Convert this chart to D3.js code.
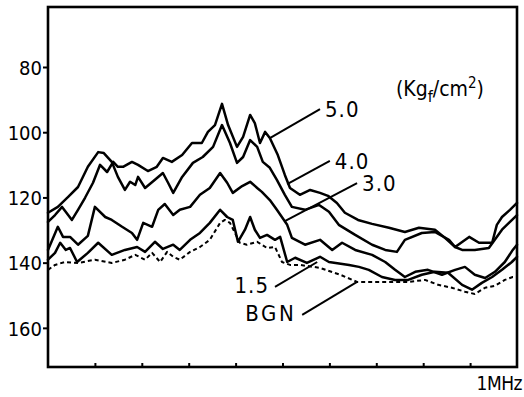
<!DOCTYPE html>
<html>
<head>
<meta charset="utf-8">
<script src="https://cdn.jsdelivr.net/npm/d3@7"></script>
<style>
  body { margin: 0; background: #fff; }
  svg text { font-family: "DejaVu Sans Condensed", "Liberation Sans Narrow", sans-serif; fill: #000; }
  .curve { fill: none; stroke: #000; stroke-width: 2.5; stroke-linejoin: round; stroke-linecap: round; }
  .bgn { stroke-width: 2; stroke-dasharray: 4 3; stroke-linecap: butt; }
</style>
</head>
<body>
<div id="container"></div>
<script>
// level readings (dB, plotted downward) against frequency (MHz)
const s50 = [[0,127.5],[.015,125.4],[.030,122.9],[.051,126.9],[.064,123.8],[.079,120.1],[.096,115.5],[.111,110.0],[.126,112.2],[.139,109.1],[.149,110.6],[.160,110.6],[.179,109.1],[.192,110.0],[.213,111.9],[.232,110.6],[.245,107.9],[.264,109.1],[.286,107.0],[.307,103.3],[.328,103.3],[.341,99.9],[.356,97.8],[.371,91.3],[.384,97.8],[.403,104.5],[.416,101.4],[.431,94.7],[.441,97.2],[.452,103.3],[.463,99.9],[.473,101.8],[.490,107.0],[.505,113.1],[.516,117.1],[.537,119.2],[.559,117.7],[.580,118.6],[.597,119.5],[.616,121.7],[.633,124.7],[.661,126.9],[.691,128.1],[.727,129.3],[.761,130.6],[.791,129.3],[.825,129.9],[.844,132.1],[.868,135.2],[.898,132.1],[.919,133.9],[.947,133.9],[.957,128.4],[.968,126.0],[.985,123.8],[1,121.7]];
const s40 = [[0,124.7],[.021,122.9],[.043,119.8],[.064,116.8],[.085,110.6],[.107,106.1],[.119,106.4],[.136,109.1],[.149,113.7],[.164,117.7],[.175,115.2],[.186,116.2],[.192,113.7],[.207,117.1],[.228,114.6],[.245,112.5],[.256,115.5],[.267,118.6],[.286,113.7],[.309,109.4],[.330,107.6],[.352,104.5],[.371,97.8],[.388,103.3],[.403,109.4],[.416,107.6],[.431,102.4],[.446,104.5],[.458,109.1],[.473,110.9],[.488,114.6],[.505,119.2],[.520,122.9],[.548,123.8],[.578,122.3],[.599,124.4],[.620,128.4],[.655,131.5],[.691,134.5],[.719,136.1],[.744,136.7],[.761,133.0],[.797,130.9],[.825,130.6],[.855,133.0],[.868,135.2],[.883,136.1],[.910,136.1],[.940,135.5],[.968,129.9],[.985,127.5],[1,125.4]];
const s30 = [[0,136.1],[.021,129.0],[.032,132.1],[.047,132.1],[.064,134.5],[.085,131.8],[.100,122.9],[.122,126.0],[.136,126.9],[.158,129.0],[.179,130.9],[.190,133.0],[.203,127.8],[.222,129.0],[.235,123.8],[.249,122.0],[.267,125.4],[.281,123.8],[.303,122.9],[.324,119.2],[.345,117.1],[.367,112.5],[.382,115.5],[.394,118.6],[.414,116.5],[.431,115.2],[.446,117.1],[.456,118.3],[.473,120.8],[.488,123.8],[.510,128.4],[.520,132.4],[.548,134.5],[.580,133.0],[.606,136.1],[.627,133.9],[.655,136.1],[.691,137.6],[.719,139.8],[.740,142.2],[.761,144.4],[.783,142.8],[.810,142.2],[.840,143.7],[.868,142.2],[.889,141.3],[.910,143.7],[.932,144.7],[.953,142.8],[.974,139.8],[.991,136.1],[1,134.5]];
const s15 = [[0,139.1],[.015,137.0],[.026,133.9],[.038,136.1],[.047,135.5],[.062,139.8],[.085,137.0],[.107,133.9],[.136,137.6],[.164,136.1],[.190,135.2],[.207,136.7],[.228,133.6],[.245,135.8],[.267,134.5],[.281,136.1],[.303,133.0],[.324,130.9],[.345,127.8],[.367,123.8],[.382,126.0],[.394,126.9],[.405,133.6],[.420,129.9],[.431,126.0],[.441,129.9],[.452,132.4],[.467,131.5],[.484,133.0],[.495,132.1],[.510,139.8],[.527,138.5],[.552,140.1],[.580,138.2],[.599,139.8],[.642,140.7],[.663,141.3],[.684,142.2],[.712,144.4],[.740,145.3],[.768,145.3],[.797,143.7],[.825,142.8],[.853,143.1],[.883,146.8],[.904,148.3],[.925,146.2],[.947,144.4],[.968,142.2],[.989,139.8],[1,138.2]];
const bgn = [[0,142.2],[.015,140.7],[.036,139.8],[.064,140.1],[.100,139.1],[.136,140.1],[.164,139.1],[.186,137.6],[.207,139.1],[.222,137.0],[.239,139.8],[.254,136.7],[.267,138.2],[.281,139.1],[.303,136.7],[.324,135.2],[.345,133.0],[.367,127.8],[.377,126.9],[.388,127.8],[.409,133.9],[.424,134.5],[.446,133.6],[.467,135.5],[.484,135.2],[.499,139.8],[.516,140.7],[.537,140.7],[.580,141.6],[.623,143.7],[.659,145.9],[.687,145.9],[.719,145.9],[.768,145.9],[.804,145.3],[.832,146.8],[.861,147.7],[.889,148.9],[.910,149.6],[.932,147.7],[.953,147.1],[.974,145.3],[.991,144.4],[1,144.4]];

const yTicks = [80, 100, 120, 140, 160];
const xTicks = [0.1, 0.2, 0.3, 0.4, 0.5, 0.6, 0.7, 0.8, 0.9];
const xEndLabel = "1MHz";
const unitLabel = ["(Kg", "f", "/cm", "2", ")"];

// curve labels: text, leader start [f, level], leader end [f, level], side
const labels = [
  ["5.0", [.473, 101.8], [.580, 92.9], "right"],
  ["4.0", [.510, 115.9], [.601, 108.8], "right"],
  ["3.0", [.505, 127.3], [.659, 115.6], "right"],
  ["1.5", [.484, 147.4], [.574, 139.8], "left"],
  ["BGN", [.542, 156.0], [.659, 145.9], "left"]
];

const width = 524, height = 397;
const margin = {top: 7, right: 7, bottom: 30, left: 48};

const svg = d3.select("#container")
  .append("svg")
  .attr("width", width)
  .attr("height", height);

const x = d3.scaleLinear().domain([0, 1]).range([margin.left, width - margin.right]);
const y = d3.scaleLinear().domain([61.6, 172]).range([margin.top, height - margin.bottom]);

// y axis
const yAxis = svg.append("g")
  .attr("transform", `translate(${margin.left},0)`)
  .call(d3.axisLeft(y).tickValues(yTicks).tickSize(5).tickPadding(1));
yAxis.select(".domain").remove();
yAxis.selectAll("line").attr("stroke", "#000").attr("stroke-width", 2);
yAxis.selectAll("text").attr("font-size", 20).attr("dy", "0.36em");

// x axis, ticks pointing inward
const xAxis = svg.append("g")
  .attr("transform", `translate(0,${height - margin.bottom})`)
  .call(d3.axisBottom(x).tickValues(xTicks).tickSize(-4).tickFormat(""));
xAxis.select(".domain").remove();
xAxis.selectAll("line").attr("stroke", "#000").attr("stroke-width", 2);

svg.append("text")
  .attr("x", width - 2)
  .attr("y", height - 7)
  .attr("text-anchor", "end")
  .attr("font-size", 19)
  .attr("letter-spacing", -0.5)
  .text(xEndLabel);

// frame
svg.append("rect")
  .attr("x", x(0))
  .attr("y", y(61.6))
  .attr("width", x(1) - x(0))
  .attr("height", y(172) - y(61.6))
  .attr("fill", "none")
  .attr("stroke", "#000")
  .attr("stroke-width", 2.6);

const line = d3.line().x(d => x(d[0])).y(d => y(d[1]));

[s50, s40, s30, s15].forEach(s => {
  svg.append("path").datum(s).attr("class", "curve").attr("d", line);
});
svg.append("path").datum(bgn).attr("class", "curve bgn").attr("d", line);

// leaders and labels
const lab = svg.append("g");
labels.forEach(([t, a, b, side]) => {
  lab.append("line")
    .attr("x1", x(a[0])).attr("y1", y(a[1]))
    .attr("x2", x(b[0])).attr("y2", y(b[1]))
    .attr("stroke", "#000").attr("stroke-width", 2);
  const right = side === "right";
  const p = right ? b : a;
  lab.append("text")
    .attr("x", x(p[0]) + (right ? 5 : -6))
    .attr("y", y(p[1]) + (right ? 0 : -2))
    .attr("dy", "0.36em")
    .attr("text-anchor", right ? "start" : "end")
    .attr("font-size", 22)
    .attr("letter-spacing", t === "BGN" ? 2.5 : 1)
    .text(t);
});

// unit label
const u = svg.append("text")
  .attr("x", 396)
  .attr("y", 96)
  .attr("font-size", 21);
u.append("tspan").text(unitLabel[0]);
u.append("tspan").attr("font-size", 16).attr("dy", 6).text(unitLabel[1]);
u.append("tspan").attr("dy", -6).text(unitLabel[2]);
u.append("tspan").attr("font-size", 15).attr("dy", -8).text(unitLabel[3]);
u.append("tspan").attr("dy", 8).text(unitLabel[4]);
</script>
</body>
</html>
